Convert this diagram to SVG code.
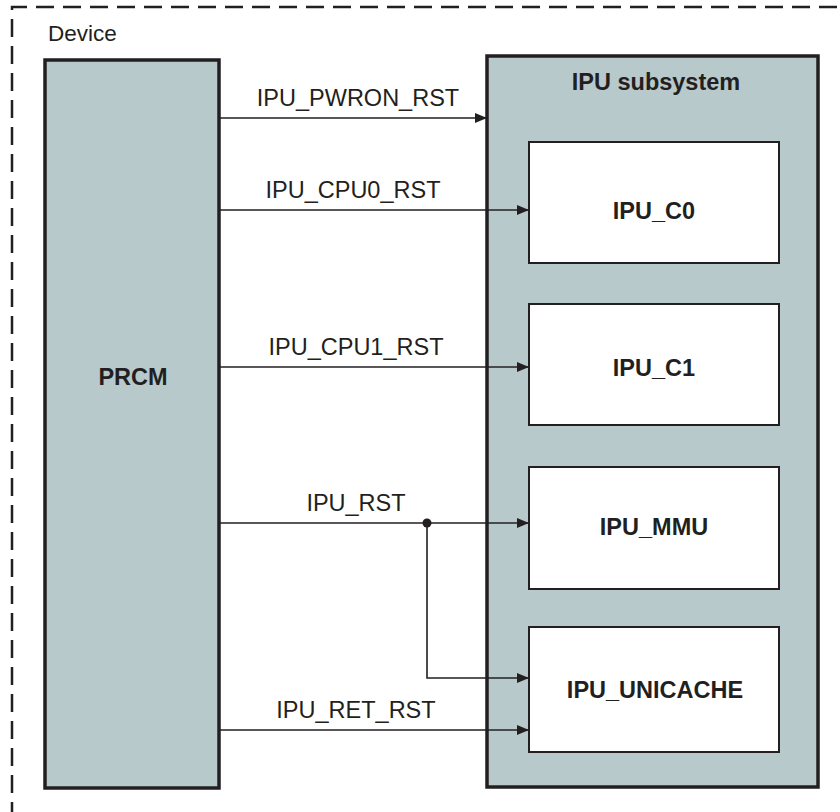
<svg xmlns="http://www.w3.org/2000/svg" width="840" height="812" viewBox="0 0 840 812">
<defs>
<style>
.lbl{font-family:"Liberation Sans",Arial,sans-serif;font-size:23.5px;fill:#231f20;text-anchor:middle}
.bold{font-weight:bold}
.block{fill:#b8c9cc;stroke:#231f20;stroke-width:3.5}
.inner{fill:#ffffff;stroke:#231f20;stroke-width:2}
.wire{fill:none;stroke:#231f20;stroke-width:1.6}
</style>
<marker id="arr" viewBox="0 0 12 10" refX="12" refY="5" markerWidth="12" markerHeight="10" markerUnits="userSpaceOnUse" orient="auto">
<path d="M0,0 L12,5 L0,10 Z" fill="#231f20"/>
</marker>
</defs>
<rect width="840" height="812" fill="#ffffff"/>
<g id="device">
<path d="M12,820 L12,7 L850,7" fill="none" stroke="#231f20" stroke-width="2.5" stroke-dasharray="18,9"/>
<text class="lbl" x="48" y="41" style="text-anchor:start;font-size:22.5px">Device</text>
</g>
<g id="prcm">
<rect class="block" x="45" y="60" width="174" height="728"/>
<text class="lbl bold" x="133" y="385">PRCM</text>
</g>
<g id="ipu_subsystem">
<rect class="block" x="487" y="56" width="331" height="731"/>
<text class="lbl bold" x="656" y="90">IPU subsystem</text>
</g>
<g id="ipu_c0">
<rect class="inner" x="529" y="142" width="250" height="121"/>
<text class="lbl bold" x="654" y="219">IPU_C0</text>
</g>
<g id="ipu_c1">
<rect class="inner" x="529" y="304" width="250" height="121"/>
<text class="lbl bold" x="654" y="376">IPU_C1</text>
</g>
<g id="ipu_mmu">
<rect class="inner" x="529" y="467" width="250" height="122"/>
<text class="lbl bold" x="654" y="535">IPU_MMU</text>
</g>
<g id="ipu_unicache">
<rect class="inner" x="529" y="627" width="250" height="125"/>
<text class="lbl bold" x="655" y="698">IPU_UNICACHE</text>
</g>
<g id="connectors">
<line class="wire" x1="220" y1="118" x2="487" y2="118" marker-end="url(#arr)"/>
<line class="wire" x1="220" y1="210" x2="529" y2="210" marker-end="url(#arr)"/>
<line class="wire" x1="220" y1="367" x2="529" y2="367" marker-end="url(#arr)"/>
<line class="wire" x1="220" y1="523" x2="529" y2="523" marker-end="url(#arr)"/>
<polyline class="wire" points="427,523 427,678 529,678" marker-end="url(#arr)"/>
<circle cx="427" cy="523" r="4.5" fill="#231f20"/>
<line class="wire" x1="220" y1="730" x2="529" y2="730" marker-end="url(#arr)"/>
<text class="lbl" x="358" y="106">IPU_PWRON_RST</text>
<text class="lbl" x="353" y="198">IPU_CPU0_RST</text>
<text class="lbl" x="356" y="355">IPU_CPU1_RST</text>
<text class="lbl" x="356" y="511">IPU_RST</text>
<text class="lbl" x="356" y="718">IPU_RET_RST</text>
</g>
</svg>
